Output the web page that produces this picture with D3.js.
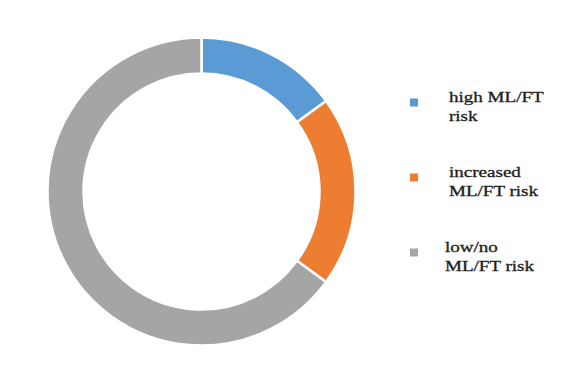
<!DOCTYPE html>
<html>
<head>
<meta charset="utf-8">
<script src="https://cdn.jsdelivr.net/npm/d3@7"></script>
<style>
  html, body { margin: 0; padding: 0; background: #fff; }
  svg { display: block; }
</style>
</head>
<body>
<svg id="chart" width="586" height="374"></svg>
<script>
// Risk categories and their shares (percent)
const categories = ["high ML/FT risk", "increased ML/FT risk", "low/no ML/FT risk"];
const values = [15, 20, 65];
const labelLines = [["high ML/FT", "risk"], ["increased", "ML/FT risk"], ["low/no", "ML/FT risk"]];
const colors = ["#5B9BD5", "#ED7D31", "#A5A5A5"];

const svg = d3.select("#chart");
const cx = 201.5, cy = 191.5, outerR = 154, innerR = 118;

const color = d3.scaleOrdinal().domain(categories).range(colors);

const pie = d3.pie().sort(null).value(d => d.value);
const arc = d3.arc().innerRadius(innerR).outerRadius(outerR);

const data = categories.map((c, i) => ({ name: c, value: values[i] }));

svg.append("g")
  .attr("transform", `translate(${cx},${cy})`)
  .selectAll("path")
  .data(pie(data))
  .join("path")
  .attr("d", arc)
  .attr("fill", d => color(d.data.name))
  .attr("stroke", "#fff")
  .attr("stroke-width", 2.5);

// Legend
const legendX = 410, textX = 449, firstBaseline = 102, itemGap = 75, lineGap = 19.5;
const legend = svg.append("g")
  .style("font-family", "'Liberation Serif', 'Times New Roman', serif")
  .style("font-size", "14px")
  .attr("fill", "#1e1e1e")
  .attr("stroke", "#1e1e1e")
  .attr("stroke-width", 0.3);

categories.forEach((c, i) => {
  const base = firstBaseline + i * itemGap;
  legend.append("rect")
    .attr("x", legendX)
    .attr("y", base - 3.5)
    .attr("width", 8)
    .attr("height", 8)
    .attr("stroke", "none")
    .attr("fill", color(c));
  const t = legend.append("text")
    .attr("transform", `translate(${textX - (i === 2 ? 4 : 0)},${base}) scale(1.36,1)`);
  labelLines[i].forEach((line, j) => {
    t.append("tspan")
      .attr("x", 0)
      .attr("y", j * lineGap)
      .text(line);
  });
});
</script>
</body>
</html>
